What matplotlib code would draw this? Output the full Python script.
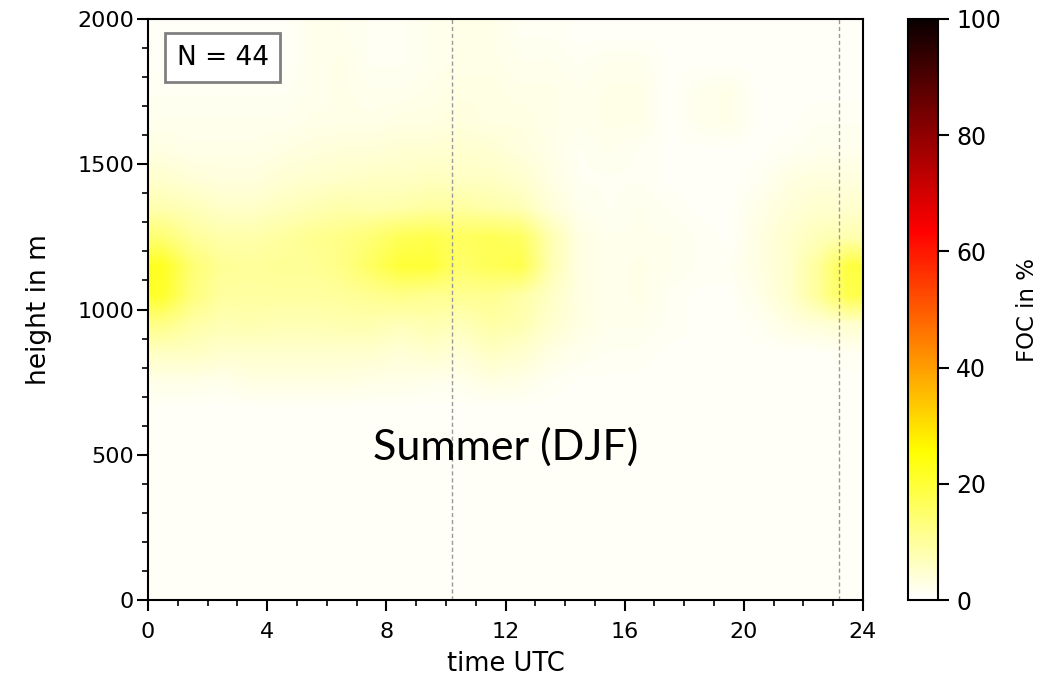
import numpy as np
import matplotlib
matplotlib.use("Agg")
import matplotlib.pyplot as plt
from matplotlib.ticker import MultipleLocator

# --- data: FOC (%) per hour (columns 0..23) and 100 m height bin ---
hours = np.arange(24) + 0.5
heights = np.arange(20) * 100 + 50
bg = 0.8
# rows listed from top (1900-2000 m) down to 700-800 m; below is background
rows_top_down = [
    [1,1,1,1,1,2,2,1.5,1.5,2,2.5,2.5,1.5,1.5,1,1,1,1,1,1,1,1,1,1],          # 1950
    [1,1,1,1,1,2,2.5,1.5,1.5,2,2.5,2.5,2,2,1.5,2,2,1,1,1,1,1,1,1],          # 1850
    [1.5,1.5,1.5,1.5,1.5,2,2.5,2,2,2.5,3,3,2.5,2.5,2,2.5,2.5,1,2,2.5,1,1,1,1],  # 1750
    [2,2,2,2,2,2.5,2.5,2.5,3,3,3.5,3,3,2.5,2,2.5,2.5,1,2,2.5,1,1,1.5,1.5],  # 1650
    [3,2.5,2.5,2.5,3,3.5,4,4,4.5,4.5,5,4.5,3.5,2.5,1.5,2,1.5,1,1,1,1,1.5,2,2],  # 1550
    [5,4,3.5,3.5,4.5,5,5.5,6,6,6.5,6,6,5,3,1.5,1.5,1.5,1,1,1,1.5,3,3.5,3.5],  # 1450
    [8,7,5.5,5.5,6.5,7.5,8.5,8,8.5,9.5,9.5,8.5,7.5,4,2,1.5,2,1.5,1,1,2.5,4,5,5],  # 1350
    [14,10,8.5,8.5,9.5,11,12,14,17,18,16,17,16,8,3,2,2,2,1.5,1,3,5,7,8],    # 1250
    [22,14,10.5,10,10.5,10.5,12,16,20,20,15,17,18,8,3,2,2.5,2,1.5,1.5,3,5,10,19],  # 1150
    [21,13,9.5,9.5,9.5,9.5,10,11,12,11,11,11,9,6,3,2,2.5,1.5,1,1,2.5,5,10,18],  # 1050
    [12,9,7.5,8,7.5,7.5,8,8,7,8,7,9,8,5,3,2,2,1.5,1,1,1.5,3,4,5],           # 950
    [6,6,5,5,5,5,5,5,4,5,4,6,5,3,2,1.5,1.5,1,1,1,1,1,1,1.5],                # 850
    [2.5,2.5,2,3,3,3,3,2.5,2.5,2,2,3,2.5,1.5,1,1,1,1,1,1,1,1,1,1],          # 750
]
n_rows = len(heights)
foc = np.full((n_rows, len(hours)), bg)
for i, r in enumerate(rows_top_down):
    foc[n_rows - 1 - i, :] = r
foc = np.maximum(foc, bg)

vlines = [10.2, 23.2]
n_cases = 44
season_label = "Summer (DJF)"

# --- figure ---
fig = plt.figure(figsize=(10.61, 6.81), dpi=100)
ax = fig.add_axes([148/1061, 81/681, 715/1061, 581/681])
cax = fig.add_axes([908/1061, 81/681, 30/1061, 581/681])

cmap = plt.get_cmap("hot_r")
im = ax.imshow(foc, origin="lower", aspect="auto", cmap=cmap, vmin=0, vmax=100,
               extent=[0, 24, 0, 2000], interpolation="bilinear")

for v in vlines:
    ax.axvline(v, color="#999999", lw=1, linestyle=(0, (3, 2)))

ax.set_xlim(0, 24)
ax.set_ylim(0, 2000)
ax.xaxis.set_major_locator(MultipleLocator(4))
ax.xaxis.set_minor_locator(MultipleLocator(1))
ax.yaxis.set_major_locator(MultipleLocator(500))
ax.yaxis.set_minor_locator(MultipleLocator(100))
ax.tick_params(which="major", length=8, width=1.5, labelsize=16)
ax.tick_params(axis="x", which="major", pad=7.5)
ax.tick_params(axis="y", which="major", pad=2)
ax.tick_params(which="minor", length=4.5, width=1.2)
for s in ax.spines.values():
    s.set_linewidth(1.5)
ax.set_xlabel("time UTC", fontsize=18.5, labelpad=7)
ax.set_ylabel("height in m", fontsize=19, labelpad=18)

ax.text(0.04, 0.956, f"N = {n_cases}", transform=ax.transAxes, ha="left", va="top",
        fontsize=19, bbox=dict(boxstyle="square,pad=0.45", fc="white", ec="gray", lw=2))
ax.text(12, 527, season_label, ha="center", va="center", fontsize=31,
        family=["Lato", "DejaVu Sans"])

cb = fig.colorbar(im, cax=cax)
cb.set_ticks([0, 20, 40, 60, 80, 100])
cb.ax.tick_params(labelsize=17, length=8, width=1.5, pad=5)
cb.outline.set_linewidth(1.5)
cb.set_label("FOC in %", fontsize=16.5, labelpad=11)

fig.savefig("out.png", dpi=100)
